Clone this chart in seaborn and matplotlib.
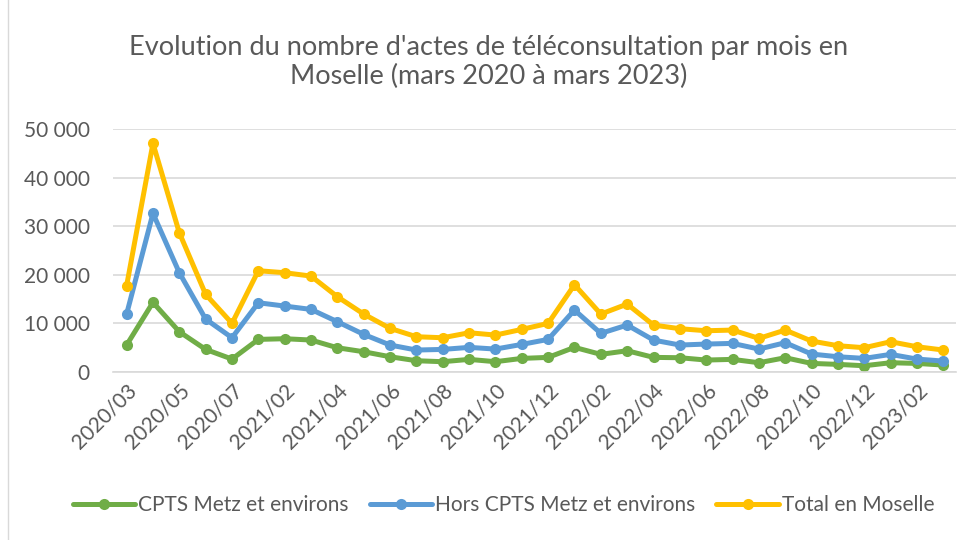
import pandas as pd
import matplotlib.pyplot as plt
import seaborn as sns
from matplotlib.lines import Line2D
from matplotlib.patches import Rectangle

# Monthly data
mois = ['2020/03', '2020/04', '2020/05', '2020/06', '2020/07',
        '2021/01', '2021/02', '2021/03', '2021/04', '2021/05', '2021/06',
        '2021/07', '2021/08', '2021/09', '2021/10', '2021/11', '2021/12',
        '2022/01', '2022/02', '2022/03', '2022/04', '2022/05', '2022/06',
        '2022/07', '2022/08', '2022/09', '2022/10', '2022/11', '2022/12',
        '2023/01', '2023/02', '2023/03']
cpts_metz = [5560, 14330, 8300, 4660, 2670, 6720, 6860, 6590, 5000, 4180, 3150,
             2330, 2130, 2610, 2130, 2810, 3020, 5080, 3640, 4390, 3020, 2950,
             2470, 2610, 1920, 2950, 1780, 1580, 1300, 1920, 1780, 1440]
hors_cpts = [11930, 32650, 20440, 10900, 7060, 14260, 13580, 12890, 10360, 7750, 5560,
             4530, 4660, 5080, 4730, 5690, 6720, 12760, 7960, 9670, 6580, 5560,
             5760, 5900, 4730, 6040, 3700, 3150, 2810, 3640, 2670, 2260]
total = [17760, 47060, 28660, 15990, 10020, 20850, 20440, 19750, 15500, 11930, 8990,
         7270, 7060, 8090, 7610, 8780, 10020, 17970, 11930, 13990, 9670, 8920,
         8500, 8640, 6930, 8640, 6380, 5420, 5010, 6240, 5210, 4530]

series = ['CPTS Metz et environs', 'Hors CPTS Metz et environs', 'Total en Moselle']
colors = ['#70AD47', '#5B9BD5', '#FFC000']

df = pd.DataFrame({'idx': range(len(mois)), 'mois': mois,
                   series[0]: cpts_metz, series[1]: hors_cpts, series[2]: total})
long = df.melt(id_vars=['idx', 'mois'], var_name='serie', value_name='actes')

sns.set_style('white')
plt.rcParams['font.family'] = ['Lato', 'DejaVu Sans']
grey = '#595959'

fig = plt.figure(figsize=(9.78, 5.40), dpi=100)
ax = fig.add_axes([0.116, 0.311, 0.862, 0.45])

sns.lineplot(data=long, x='idx', y='actes', hue='serie', hue_order=series,
             palette=colors, marker='o', markersize=8, markeredgewidth=0,
             linewidth=3.6, legend=False, ax=ax)

ax.set_xlim(-0.5, len(mois) - 0.5)
ax.set_ylim(0, 50000)
ax.set_yticks(range(0, 50001, 10000))
ax.set_yticklabels([f'{v:,}'.replace(',', ' ') for v in range(0, 50001, 10000)],
                   fontsize=15, color=grey)
ax.set_xticks(df['idx'][::2])
ax.set_xticklabels(df['mois'][::2], rotation=45, ha='right', rotation_mode='anchor',
                   fontsize=15, color=grey)
ax.yaxis.set_tick_params(length=0, pad=17)
ax.xaxis.set_tick_params(length=0, pad=6)
ax.set_xlabel('')
ax.set_ylabel('')
ax.grid(axis='y', color='#D9D9D9', linewidth=1.2)
ax.set_axisbelow(True)
for s in ['top', 'right', 'left']:
    ax.spines[s].set_visible(False)
ax.spines['bottom'].set_color('#D9D9D9')
ax.spines['bottom'].set_linewidth(1.2)

fig.text(0.5, 0.885, "Evolution du nombre d'actes de téléconsultation par mois en\nMoselle (mars 2020 à mars 2023)",
         ha='center', va='center', fontsize=19.5, color=grey, linespacing=1.2)

handles = [Line2D([0], [0], color=c, linewidth=3.6, marker='o', markersize=8,
                  markeredgewidth=0) for c in colors]
fig.legend(handles, series, loc='center', bbox_to_anchor=(0.515, 0.065), ncol=3,
           frameon=False, fontsize=15, labelcolor=grey, handlelength=3.0,
           handletextpad=0.15, columnspacing=1.0)

fig.patches.append(Rectangle((0.008, -0.01), 1.5, 1.5, transform=fig.transFigure,
                             fill=False, edgecolor='#D9D9D9', linewidth=1))

fig.savefig('out.png', dpi=100)
